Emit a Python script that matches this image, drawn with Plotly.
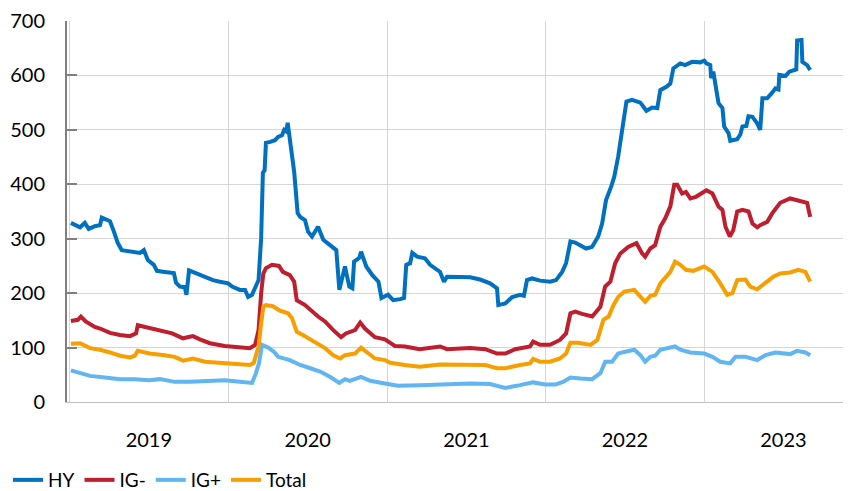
import plotly.graph_objects as go

hy_dates = ["2019-01-04","2019-01-13","2019-01-25","2019-02-05","2019-02-14","2019-02-28","2019-03-12","2019-03-16","2019-04-04","2019-04-13","2019-04-22","2019-05-01","2019-05-20","2019-06-12","2019-06-21","2019-06-30","2019-07-14","2019-07-21","2019-08-08","2019-08-29","2019-09-03","2019-09-12","2019-09-23","2019-09-27","2019-10-03","2019-10-17","2019-11-09","2019-11-27","2019-12-13",
            "2020-01-01","2020-01-10","2020-01-28","2020-02-09","2020-02-16","2020-02-25","2020-03-03","2020-03-11","2020-03-17","2020-03-21","2020-03-25","2020-03-28","2020-04-07","2020-04-18","2020-04-25","2020-05-04","2020-05-09","2020-05-14","2020-05-17","2020-05-21","2020-06-01","2020-06-09","2020-06-15","2020-06-26","2020-07-03","2020-07-12","2020-07-26","2020-08-07","2020-08-23","2020-09-06","2020-09-13","2020-09-20","2020-09-26","2020-10-01","2020-10-06","2020-10-13","2020-10-17","2020-10-29","2020-11-02","2020-11-14","2020-11-28","2020-12-12","2020-12-19",
            "2021-01-03","2021-01-15","2021-01-31","2021-02-09","2021-02-14","2021-02-23","2021-02-28","2021-03-11","2021-03-29","2021-04-10","2021-05-03","2021-05-12","2021-05-19","2021-06-07","2021-07-11","2021-08-03","2021-08-26","2021-09-11","2021-09-14","2021-09-30","2021-10-16","2021-11-03","2021-11-12","2021-11-19","2021-12-01","2021-12-19",
            "2022-01-11","2022-01-25","2022-02-08","2022-02-17","2022-02-27","2022-03-10","2022-03-22","2022-04-04","2022-04-18","2022-05-02","2022-05-11","2022-05-20","2022-06-01","2022-06-08","2022-06-17","2022-06-26","2022-07-06","2022-07-19","2022-08-07","2022-08-21","2022-09-03","2022-09-15","2022-09-22","2022-10-06","2022-10-15","2022-10-22","2022-11-07","2022-11-18","2022-12-04","2022-12-23",
            "2023-01-01","2023-01-06","2023-01-15","2023-01-17","2023-01-22","2023-01-29","2023-02-03","2023-02-12","2023-02-16","2023-02-26","2023-03-02","2023-03-18","2023-03-25","2023-03-30","2023-04-08","2023-04-13","2023-04-22","2023-05-03","2023-05-10","2023-05-15","2023-05-26","2023-06-05","2023-06-14","2023-06-21","2023-06-23","2023-07-07","2023-07-16","2023-08-01","2023-08-03","2023-08-13","2023-08-15","2023-08-26","2023-09-02"]
hy_vals = [329,325,321,329,318,323,325,339,332,313,292,279,276,274,279,261,252,241,239,237,219,212,211,197,242,237,229,224,221,
           218,212,206,206,193,197,212,224,301,421,426,476,478,481,487,490,500,497,513,490,423,347,340,334,313,304,322,298,288,279,206,233,249,230,212,209,258,265,276,249,233,221,191,
           197,187,189,191,252,255,274,267,264,252,239,221,230,230,229,225,218,209,178,181,193,197,195,224,227,223,
           221,224,239,255,295,293,287,282,285,304,328,371,396,414,451,500,552,555,550,535,541,540,573,579,585,613,622,619,625,624,
           627,622,619,595,607,573,549,540,506,494,480,483,491,506,507,525,524,512,500,558,558,567,576,574,601,599,607,611,664,665,625,619,610]

igm_dates = ["2019-01-04","2019-01-20","2019-01-27","2019-02-07","2019-02-28","2019-03-12","2019-04-04","2019-04-27","2019-05-20","2019-06-03","2019-06-07","2019-06-23","2019-07-16","2019-08-08","2019-08-25","2019-09-19","2019-10-12","2019-10-28","2019-11-20","2019-12-24",
             "2020-01-24","2020-02-20","2020-03-03","2020-03-11","2020-03-17","2020-03-22","2020-03-28","2020-04-11","2020-04-27","2020-05-06","2020-05-22","2020-06-01","2020-06-07","2020-06-26","2020-07-26","2020-08-11","2020-08-30","2020-09-17","2020-09-28","2020-10-19","2020-10-31","2020-11-11","2020-12-04","2020-12-27",
             "2021-01-19","2021-02-11","2021-03-17","2021-05-03","2021-05-19","2021-07-11","2021-08-15","2021-09-11","2021-09-30","2021-10-23","2021-11-26","2021-12-03","2021-12-19",
             "2022-01-11","2022-02-03","2022-02-17","2022-02-27","2022-03-10","2022-03-26","2022-04-18","2022-05-07","2022-05-18","2022-05-30","2022-06-10","2022-06-22","2022-07-10","2022-07-29","2022-08-11","2022-08-18","2022-08-30","2022-09-10","2022-09-22","2022-10-03","2022-10-15","2022-10-24","2022-10-31","2022-11-11","2022-11-20","2022-11-30","2022-12-13",
             "2023-01-06","2023-01-20","2023-02-03","2023-02-12","2023-02-19","2023-03-01","2023-03-09","2023-03-18","2023-03-30","2023-04-13","2023-04-22","2023-05-03","2023-05-10","2023-05-26","2023-06-07","2023-06-25","2023-07-18","2023-08-03","2023-08-22","2023-08-26","2023-09-02"]
igm_vals = [149,151,157,148,138,135,127,123,121,126,141,138,132,129,126,117,121,115,108,103,
            100,99,105,132,200,236,246,252,250,239,233,221,187,178,157,148,132,119,126,132,146,135,119,115,
            103,102,97,102,97,99,97,89,89,97,102,111,105,
            105,114,126,163,166,162,157,175,212,221,255,273,285,292,273,267,282,288,322,337,359,399,399,383,386,374,377,
            389,383,359,353,322,304,316,350,353,350,328,321,325,331,347,366,374,371,368,366,340]

igp_dates = ["2019-01-04","2019-01-25","2019-02-17","2019-03-23","2019-04-27","2019-05-31","2019-07-04","2019-07-28","2019-08-31","2019-10-05","2019-11-09","2019-12-24",
             "2020-01-28","2020-02-25","2020-03-05","2020-03-12","2020-03-19","2020-04-02","2020-04-16","2020-04-25","2020-05-22","2020-06-15","2020-07-08","2020-07-31","2020-08-23","2020-09-13","2020-09-26","2020-10-07","2020-11-02","2020-11-23","2020-12-27",
             "2021-01-26","2021-03-17","2021-05-14","2021-07-11","2021-08-26","2021-09-30","2021-11-03","2021-12-03","2021-12-31",
             "2022-01-23","2022-02-10","2022-02-27","2022-03-22","2022-04-18","2022-05-07","2022-05-18","2022-06-03","2022-06-17","2022-07-01","2022-07-24","2022-08-07","2022-08-18","2022-08-30","2022-09-10","2022-09-22","2022-10-10","2022-10-26","2022-11-07","2022-11-30",
             "2023-01-01","2023-01-20","2023-02-07","2023-03-02","2023-03-14","2023-04-06","2023-05-03","2023-05-22","2023-06-14","2023-07-18","2023-08-03","2023-08-22","2023-09-02"]
igp_vals = [58,54,48,45,42,42,40,42,37,37,39,40,
            37,35,53,71,105,100,92,83,77,68,62,56,46,35,42,39,46,39,34,
            30,31,33,34,33,26,31,36,32,
            32,37,45,43,42,53,74,74,89,92,96,86,74,83,85,96,99,102,96,91,
            89,83,74,71,83,83,77,86,91,88,94,91,86]

tot_dates = ["2019-01-04","2019-01-25","2019-02-17","2019-03-12","2019-04-04","2019-04-27","2019-05-20","2019-05-31","2019-06-07","2019-07-04","2019-08-08","2019-08-31","2019-09-19","2019-10-12","2019-11-09","2019-12-13",
             "2020-01-24","2020-02-20","2020-02-29","2020-03-11","2020-03-17","2020-03-22","2020-03-28","2020-04-13","2020-04-29","2020-05-18","2020-05-27","2020-06-07","2020-06-21","2020-07-18","2020-08-11","2020-08-30","2020-09-15","2020-09-26","2020-10-19","2020-11-02","2020-11-14","2020-12-04","2020-12-27",
             "2021-01-08","2021-02-11","2021-03-17","2021-05-03","2021-06-18","2021-08-15","2021-09-11","2021-09-30","2021-11-03","2021-11-26","2021-12-03","2021-12-19",
             "2022-01-11","2022-02-03","2022-02-17","2022-02-27","2022-03-17","2022-04-14","2022-04-30","2022-05-14","2022-05-26","2022-06-06","2022-06-17","2022-07-01","2022-07-24","2022-08-07","2022-08-18","2022-08-30","2022-09-10","2022-09-22","2022-10-03","2022-10-15","2022-10-26","2022-11-07","2022-11-20","2022-12-07",
             "2023-01-01","2023-01-20","2023-02-07","2023-02-23","2023-03-07","2023-03-18","2023-04-06","2023-04-17","2023-05-03","2023-05-22","2023-06-09","2023-06-25","2023-07-18","2023-08-06","2023-08-22","2023-09-02"]
tot_vals = [107,108,99,96,91,85,82,85,94,89,86,83,76,80,74,72,
            70,68,72,102,145,175,178,176,168,163,154,129,123,111,99,86,80,86,89,100,92,80,77,
            72,68,65,69,68,68,62,62,68,71,79,74,
            74,80,89,109,109,105,114,151,157,178,193,203,206,193,184,195,197,218,227,239,258,252,243,241,
            249,239,218,197,200,224,225,212,207,218,230,236,238,243,239,221]

series = [
    ("HY", hy_dates, hy_vals, "#0070C0"),
    ("IG-", igm_dates, igm_vals, "#BE1E2D"),
    ("IG+", igp_dates, igp_vals, "#61B5F0"),
    ("Total", tot_dates, tot_vals, "#F79F00"),
]

fig = go.Figure()
for name, d, v, c in series:
    fig.add_trace(go.Scatter(x=d, y=v, name=name, mode="lines",
                             line=dict(color=c, width=4)))

W, H = 843, 483
font = dict(family="Lato, 'Open Sans', sans-serif", size=20, color="#000000")
fig.update_layout(
    width=W, height=H,
    margin=dict(l=59, r=0, t=13, b=89, autoexpand=False),
    paper_bgcolor="white", plot_bgcolor="white",
    font=font,
    showlegend=True,
    legend=dict(orientation="h", xref="container", yref="container",
                x=0.0, y=1 - 453 / H, xanchor="left", yanchor="top",
                font=dict(family="Lato, 'Open Sans', sans-serif", size=19, color="#000000"),
                itemwidth=30, tracegroupgap=0),
)
fig.update_xaxes(type="date", range=["2018-12-26", "2023-12-05"],
                 tick0="2019-01-01", dtick="M12", tickformat="%Y",
                 ticklabelmode="period", showgrid=True, gridcolor="#d6d6d6",
                 gridwidth=1, ticks="", showline=True, linecolor="#c0c0c0",
                 linewidth=1, zeroline=False, ticklabelstandoff=20)
fig.update_yaxes(range=[0, 700], dtick=100, showgrid=True, gridcolor="#d6d6d6",
                 gridwidth=1, showline=True, linecolor="#808080", linewidth=2,
                 ticks="inside", ticklen=10, tickwidth=2, tickcolor="#808080",
                 zeroline=False, ticklabelstandoff=16)

fig.write_html("out.html")
